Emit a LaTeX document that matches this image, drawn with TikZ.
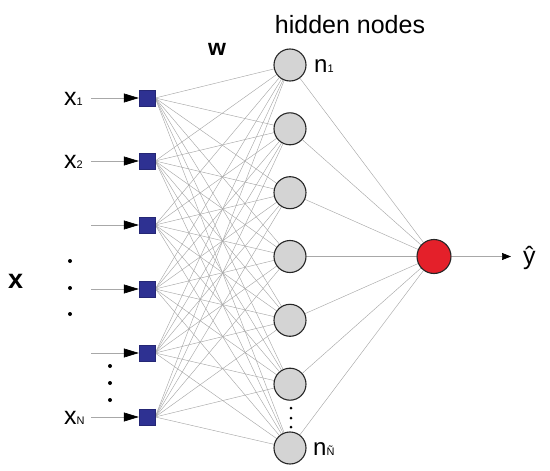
\documentclass[tikz,border=0pt]{standalone}
\usepackage{fontspec}
\setmainfont{Liberation Sans}
\usetikzlibrary{arrows.meta,positioning,backgrounds}
\definecolor{inputBlue}{HTML}{2E3192}
\definecolor{hiddenGray}{HTML}{D4D4D4}
\definecolor{outputRed}{HTML}{E4202A}
\definecolor{wireGray}{HTML}{A8A8A8}
\newcommand{\idx}[1]{{\fontsize{11pt}{11pt}\selectfont #1}}

\begin{document}
\begin{tikzpicture}[x=1pt, y=-1pt,
  inbox/.style={draw=inputBlue!80!black, fill=inputBlue, minimum size=16pt, inner sep=0pt},
  hid/.style={circle, draw=black!85, line width=1.1pt, fill=hiddenGray, minimum size=32pt, inner sep=0pt},
  outnode/.style={circle, draw=black!85, line width=1.1pt, fill=outputRed, minimum size=34pt, inner sep=0pt},
  wire/.style={draw=wireGray, line width=0.45pt},
  feed/.style={wireGray, line width=0.6pt, -{Triangle[length=15pt, width=9pt, black]}},
  outarrow/.style={wireGray, line width=0.6pt, -{Triangle[length=9pt, width=7pt, black]}},
  lbl/.style={inner sep=0pt, font=\fontsize{25pt}{25pt}\selectfont},
  dot/.style={fill=black, circle, inner sep=0pt, minimum size=4pt}
]
\useasboundingbox (0,0) rectangle (550,471);

% input layer
\node[inbox] (in1) at (147,98) {};
\node[inbox] (in2) at (147,161) {};
\node[inbox] (in3) at (147,225) {};
\node[inbox] (in4) at (147,289) {};
\node[inbox] (in5) at (147,353) {};
\node[inbox] (in6) at (147,417) {};
\foreach \i/\y in {1/98,2/161,3/225,4/289,5/353,6/417}
  \coordinate (src\i) at (91,\y);

% hidden layer
\node[hid] (h1) at (290,65) {};
\node[hid] (h2) at (290,128.8) {};
\node[hid] (h3) at (290,192.7) {};
\node[hid] (h4) at (290,256.5) {};
\node[hid] (h5) at (290,320.3) {};
\node[hid] (h6) at (290,384.2) {};
\node[hid] (h7) at (290,448) {};

% output
\node[outnode] (out) at (434,256.5) {};
\coordinate (yend) at (511,256.5);

% weights
\begin{scope}[on background layer]
\foreach \i in {1,...,6}
  \foreach \j in {1,...,7}
    \draw[wire] (in\i.east) -- (h\j);
\foreach \j in {1,...,7}
  \draw[wire] (h\j) -- (out);
\end{scope}

\foreach \i in {1,...,6}
  \draw[feed] (src\i) -- (in\i.west);
\draw[outarrow] (out) -- (yend);

% labels
\node[lbl, anchor=base west] (x1) at (64,105) {x\idx{1}};
\node[lbl, anchor=base west] (x2) at (64,168) {x\idx{2}};
\node[lbl, anchor=base west] (xN) at (64,424) {x\idx{N}};
\node[lbl, anchor=base west, font=\fontsize{27pt}{27pt}\selectfont\bfseries] (xvec) at (8,288) {x};
\node[lbl, anchor=base, font=\fontsize{23pt}{23pt}\selectfont\bfseries] (wlab) at (217,55) {w};
\node[lbl, anchor=base] (hlab) at (350,33) {hidden nodes};
\node[lbl, anchor=base west, font=\fontsize{24pt}{24pt}\selectfont] (n1) at (314,72) {n\idx{1}};
\node[lbl, anchor=base west, font=\fontsize{24pt}{24pt}\selectfont] (nN) at (313,455) {n\idx{Ñ}};
\node[lbl, anchor=base west] (yhat) at (523,264) {ŷ};

% ellipses
\node[dot] (d1) at (70,261) {};
\node[dot] (d2) at (70,288) {};
\node[dot] (d3) at (70,314) {};
\node[dot] (d4) at (110,366) {};
\node[dot] (d5) at (110,383) {};
\node[dot] (d6) at (110,400) {};
\node[dot, minimum size=3pt] (d7) at (291,408) {};
\node[dot, minimum size=3pt] (d8) at (291,418) {};
\node[dot, minimum size=3pt] (d9) at (291,427) {};
\end{tikzpicture}
\end{document}
